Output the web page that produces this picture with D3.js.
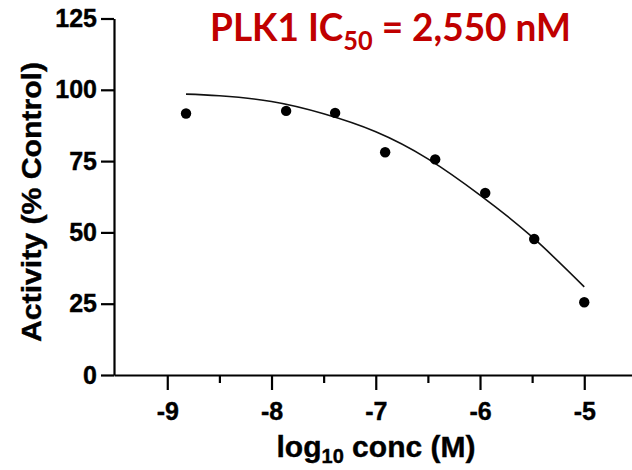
<!DOCTYPE html>
<html>
<head>
<meta charset="utf-8">
<script src="https://cdn.jsdelivr.net/npm/d3@7/dist/d3.min.js"></script>
<style>
	body { margin: 0; background: #fff; }
	svg { display: block; }
	.axis path, .axis line { stroke: #000; stroke-width: 2.2; }
	.axis text { font-family: "Liberation Sans", Arial, sans-serif; font-weight: bold; font-size: 25px; fill: #000; stroke: #000; stroke-width: 0.4; }
	.label { font-family: "Liberation Sans", Arial, sans-serif; font-weight: bold; fill: #000; stroke: #000; stroke-width: 0.4; }
</style>
</head>
<body>
<div class="chart"></div>
<script>
// measured points (log10 M, % control)
var logConc = [-8.82, -7.86, -7.39, -6.91, -6.43, -5.95, -5.48, -5.00];
var activity = [91.7, 92.6, 91.9, 78.1, 75.6, 63.8, 47.7, 25.5];

// fitted curve
var fitConc = [-8.82, -8.5, -8.0, -7.5, -7.0, -6.5, -6.0, -5.5, -5.0];
var fitActivity = [98.5, 97.9, 95.9, 91.6, 85.3, 75.8, 63.1, 48.4, 30.9];

var xMajor = [-9, -8, -7, -6, -5];
var xMinor = [-8.5, -7.5, -6.5, -5.5];
var yTicks = [0, 25, 50, 75, 100, 125];

var width = 632;
var height = 470;

var svg = d3.select(".chart")
	.append("svg")
	.attr("width", width)
	.attr("height", height);

var x = d3.scaleLinear()
	.domain([-9.511, -4.542])
	.range([114, 632]);

var y = d3.scaleLinear()
	.domain([0, 125])
	.range([375, 18.5]);

// x axis
svg.append("g")
	.attr("class", "axis")
	.attr("transform", "translate(0,375)")
	.call(d3.axisBottom(x).tickValues(xMinor).tickSize(8).tickFormat(""))
	.select(".domain").remove();

svg.append("g")
	.attr("class", "axis")
	.attr("transform", "translate(0,375)")
	.call(d3.axisBottom(x).tickValues(xMajor).tickSize(15).tickSizeOuter(0).tickPadding(12)
		.tickFormat(function(d) { return d3.format("d")(d).replace("−", "-"); }));

// y axis
svg.append("g")
	.attr("class", "axis")
	.attr("transform", "translate(114,0)")
	.call(d3.axisLeft(y).tickValues(yTicks).tickSize(13).tickSizeOuter(0).tickPadding(4));

// curve
var line = d3.line()
	.x(function(d) { return x(d[0]); })
	.y(function(d) { return y(d[1]); })
	.curve(d3.curveNatural);

svg.append("path")
	.datum(d3.zip(fitConc, fitActivity))
	.attr("fill", "none")
	.attr("stroke", "#111")
	.attr("stroke-width", 1.6)
	.attr("d", line);

// points
svg.append("g")
	.selectAll("circle")
	.data(d3.zip(logConc, activity))
	.enter()
	.append("circle")
	.attr("cx", function(d) { return x(d[0]); })
	.attr("cy", function(d) { return y(d[1]); })
	.attr("r", 5.2)
	.attr("fill", "#000");

// axis titles
var xTitle = svg.append("text")
	.attr("class", "label")
	.attr("x", 376)
	.attr("y", 457)
	.attr("text-anchor", "middle")
	.style("font-size", "30px");
xTitle.append("tspan").text("log");
xTitle.append("tspan").attr("dy", 6).style("font-size", "20px").text("10");
xTitle.append("tspan").attr("dy", -6).text(" conc (M)");

svg.append("text")
	.attr("class", "label")
	.attr("transform", "translate(41,202) rotate(-90)")
	.attr("text-anchor", "middle")
	.attr("textLength", 280)
	.attr("lengthAdjust", "spacingAndGlyphs")
	.style("font-size", "28px")
	.text("Activity (% Control)");

// title
var title = svg.append("text")
	.attr("x", 210)
	.attr("y", 41)
	.attr("textLength", 361)
	.attr("lengthAdjust", "spacingAndGlyphs")
	.style("font-family", "Lato, 'Open Sans', sans-serif")
	.style("font-weight", "bold")
	.style("font-size", "38px")
	.style("fill", "#C00000");
title.append("tspan").text("PLK1 IC");
title.append("tspan").attr("dy", 9).style("font-size", "26px").text("50");
title.append("tspan").attr("dy", -9).text(" = 2,550 nM");
</script>
</body>
</html>
